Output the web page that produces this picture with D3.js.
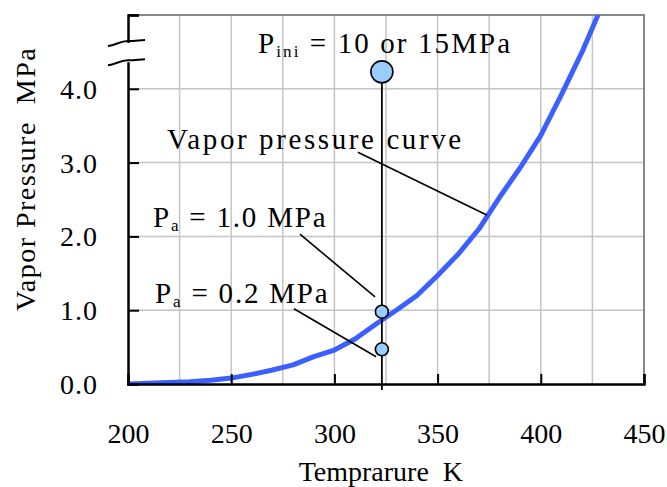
<!DOCTYPE html>
<html>
<head>
<meta charset="UTF-8">
<title>Vapor pressure curve</title>
<script src="https://d3js.org/d3.v7.min.js"></script>
<style>
  body { margin: 0; background: #fff; }
  svg text { font-family: "Liberation Serif", "Times New Roman", serif; fill: #000; }
</style>
</head>
<body>
<div class="canvas"></div>
<script>
// data
const temps = [200, 210, 220, 230, 240, 250, 260, 270, 280, 290, 300, 310,
               320, 330, 340, 350, 360, 370, 380, 390, 400, 410, 420, 430];
const pressures = [0.00, 0.01, 0.02, 0.03, 0.05, 0.08, 0.13, 0.19, 0.26, 0.37, 0.46, 0.61,
                   0.81, 1.00, 1.20, 1.47, 1.76, 2.10, 2.53, 2.93, 3.37, 3.92, 4.50, 5.15];
const xTicks = [200, 250, 300, 350, 400, 450];
const yTicks = [0, 1, 2, 3, 4, 5];
const tempLine = 323;            // vertical line temperature
const pointPressures = [4.23, 0.98, 0.47];
const pointRadius = [11, 6.5, 6.5];

const width = 667, height = 487;
const margin = { top: 15, right: 23, bottom: 103, left: 128 };
const graphWidth = width - margin.left - margin.right;
const graphHeight = height - margin.top - margin.bottom;

const svg = d3.select(".canvas").append("svg")
  .attr("width", width).attr("height", height)
  .attr("font-family", "Liberation Serif");

const graph = svg.append("g")
  .attr("transform", `translate(${margin.left}, ${margin.top})`);

const x = d3.scaleLinear().domain([200, 450]).range([0, graphWidth]);
const y = d3.scaleLinear().domain([0, 5]).range([graphHeight, 0]);

// grid
graph.append("g").selectAll("line")
  .data(d3.range(225, 450, 25))
  .join("line")
  .attr("x1", d => x(d)).attr("x2", d => x(d))
  .attr("y1", 0).attr("y2", graphHeight)
  .attr("stroke", "#c4c4c4").attr("stroke-width", 1.5);
graph.append("g").selectAll("line")
  .data([1, 2, 3, 4])
  .join("line")
  .attr("x1", 0).attr("x2", graphWidth)
  .attr("y1", d => y(d)).attr("y2", d => y(d))
  .attr("stroke", "#c4c4c4").attr("stroke-width", 1.5);

// top and right frame
graph.append("path")
  .attr("d", `M0,${y(5)}H${x(450)}V${y(0)}`)
  .attr("fill", "none").attr("stroke", "#888").attr("stroke-width", 2);

// curve
svg.append("clipPath").attr("id", "clip")
  .append("rect").attr("width", graphWidth).attr("height", graphHeight);

const line = d3.line()
  .x((d, i) => x(temps[i]))
  .y(d => y(d));

graph.append("path")
  .datum(pressures)
  .attr("clip-path", "url(#clip)")
  .attr("d", line)
  .attr("fill", "none")
  .attr("stroke", "#3b60ff")
  .attr("stroke-width", 5)
  .attr("stroke-linejoin", "round");

// axes
const xAxis = d3.axisBottom(x).tickValues(xTicks).tickSize(-10).tickPadding(39)
  .tickFormat(d3.format("d"));
const xAxisGroup = graph.append("g")
  .attr("transform", `translate(0, ${graphHeight})`)
  .call(xAxis)
  .attr("font-family", "Liberation Serif");
xAxisGroup.select(".domain").attr("stroke", "#000").attr("stroke-width", 2.5);
xAxisGroup.selectAll(".tick line").attr("stroke-width", 2);
xAxisGroup.selectAll("text").attr("font-size", 28);
xAxisGroup.selectAll(".tick").filter(d => d === 200).select("line").remove();

const yAxis = d3.axisLeft(y).tickValues(yTicks).tickSize(-11).tickPadding(30)
  .tickFormat(d => d === 5 ? "" : d3.format(".1f")(d));
const yAxisGroup = graph.append("g").call(yAxis)
  .attr("font-family", "Liberation Serif");
yAxisGroup.select(".domain").attr("stroke", "#000").attr("stroke-width", 2.5);
yAxisGroup.selectAll(".tick line").attr("stroke-width", 2);
yAxisGroup.selectAll(".tick").filter(d => d === 0).select("line").remove();
yAxisGroup.selectAll("text").attr("font-size", 28)
  .attr("letter-spacing", 1).attr("dy", "0.34em");

// axis break
const breakY = [y(4.62), y(4.36)];
graph.append("rect")
  .attr("x", -4).attr("y", breakY[0]).attr("width", 8).attr("height", breakY[1] - breakY[0])
  .attr("fill", "#fff");
graph.append("g").selectAll("path")
  .data(breakY)
  .join("path")
  .attr("d", d => `M-20,${d + 3} C-12,${d + 2} -8,${d - 2} 0,${d - 2} S12,${d - 3} 17,${d - 3}`)
  .attr("fill", "none").attr("stroke", "#000").attr("stroke-width", 2);

// vertical line and points
graph.append("line")
  .attr("x1", x(tempLine)).attr("x2", x(tempLine))
  .attr("y1", y(pointPressures[0])).attr("y2", y(-0.08))
  .attr("stroke", "#000").attr("stroke-width", 1.8);

// leader lines (in data units)
const leaders = [
  [[311.4, 3.14], [373.8, 2.29]],
  [[283.3, 2.03], [319.7, 1.18]],
  [[280.4, 1.02], [320.2, 0.37]]
];
graph.append("g").selectAll("line")
  .data(leaders)
  .join("line")
  .attr("x1", d => x(d[0][0])).attr("y1", d => y(d[0][1]))
  .attr("x2", d => x(d[1][0])).attr("y2", d => y(d[1][1]))
  .attr("stroke", "#000").attr("stroke-width", 1.6);

graph.append("g").selectAll("circle")
  .data(pointPressures)
  .join("circle")
  .attr("cx", x(tempLine))
  .attr("cy", d => y(d))
  .attr("r", (d, i) => pointRadius[i])
  .attr("fill", "#99ccff")
  .attr("stroke", "#000").attr("stroke-width", 1.6);

// annotations
const labels = [
  { t: 263.0, p: 4.49, main: "P", sub: "ini", rest: " = 10 or 15MPa", ls: 2.1 },
  { t: 218.9, p: 3.18, main: "Vapor pressure curve", sub: "", rest: "", ls: 2.6 },
  { t: 212.1, p: 2.13, main: "P", sub: "a", rest: " = 1.0 MPa", ls: 1.8 },
  { t: 213.1, p: 1.10, main: "P", sub: "a", rest: " = 0.2 MPa", ls: 1.8 }
];
labels.forEach(l => {
  const txt = graph.append("text")
    .attr("x", x(l.t)).attr("y", y(l.p))
    .attr("font-size", 29)
    .attr("letter-spacing", l.ls)
    .style("white-space", "pre");
  txt.append("tspan").text(l.main);
  if (l.sub) {
    txt.append("tspan").attr("font-size", 17).attr("dy", 4).text(l.sub);
    txt.append("tspan").attr("dy", -4).text(l.rest);
  }
});

// axis titles
svg.append("text")
  .attr("x", margin.left + x(322.5)).attr("y", 481)
  .attr("text-anchor", "middle")
  .attr("font-size", 28)
  .style("white-space", "pre")
  .text("Temprarure  K");

svg.append("text")
  .attr("transform", `translate(35, ${margin.top + y(2.78)}) rotate(-90)`)
  .attr("text-anchor", "middle")
  .attr("font-size", 28)
  .attr("letter-spacing", 1.5)
  .style("white-space", "pre")
  .text("Vapor Pressure  MPa");
</script>
</body>
</html>
